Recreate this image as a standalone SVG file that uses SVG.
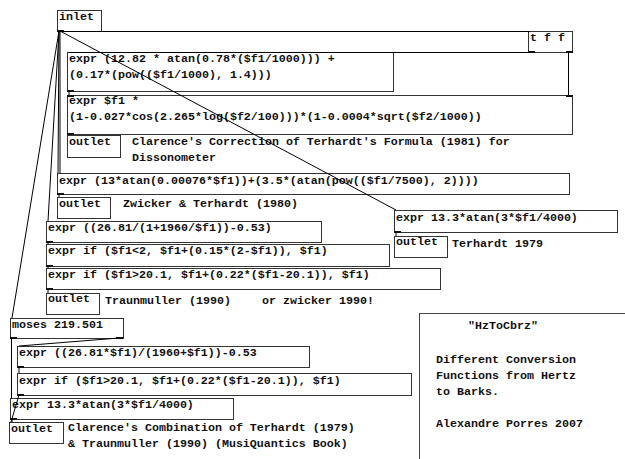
<svg xmlns="http://www.w3.org/2000/svg" width="625" height="459" viewBox="0 0 625 459">
<style>
  text { font-family: "Liberation Mono", "DejaVu Sans Mono", monospace; font-size: 11.67px; font-weight: bold; fill: #111; }
  .box { fill: #fff; stroke: #333; stroke-width: 1; }
  .io { fill: #111; }
  .cn line { stroke: #000; stroke-width: 1; }
  .frame { fill: none; stroke: #444; stroke-width: 1; }
</style>
<rect width="625" height="459" fill="#fff"/>

<g id="inlet"><rect class="box" x="57.5" y="10.5" width="44" height="21"/><rect class="io" x="57" y="30" width="7" height="2"/><text x="59" y="20">inlet</text></g>
<g id="tff"><rect class="box" x="528.5" y="31.5" width="44" height="21"/><rect class="io" x="528" y="51" width="7" height="2"/><rect class="io" x="566" y="51" width="7" height="2"/><text x="530" y="41">t f f</text></g>
<g id="expr1"><rect class="box" x="67.5" y="52.5" width="326" height="39"/><rect class="io" x="67" y="90" width="7" height="2"/><text x="69" y="62">expr (12.82 * atan(0.78*($f1/1000))) +</text><text x="69" y="78">(0.17*(pow(($f1/1000), 1.4)))</text></g>
<g id="expr2"><rect class="box" x="67.5" y="95.5" width="505" height="39"/><rect class="io" x="67" y="95" width="7" height="2"/><rect class="io" x="566" y="95" width="7" height="2"/><rect class="io" x="67" y="133" width="7" height="2"/><text x="69" y="104">expr $f1 *</text><text x="69" y="120">(1-0.027*cos(2.265*log($f2/100)))*(1-0.0004*sqrt($f2/1000))</text></g>
<g id="outlet1"><rect class="box" x="67.5" y="135.5" width="53" height="22"/><text x="69" y="145">outlet</text></g>
<g id="comment1"><text x="132" y="145">Clarence's Correction of Terhardt's Formula (1981) for</text><text x="132" y="161">Dissonometer</text></g>
<g id="expr3"><rect class="box" x="57.5" y="173.5" width="512" height="21"/><rect class="io" x="57" y="193" width="7" height="2"/><text x="59" y="184">expr (13*atan(0.00076*$f1))+(3.5*(atan(pow(($f1/7500), 2))))</text></g>
<g id="outlet2"><rect class="box" x="57.5" y="197.5" width="53" height="21"/><text x="59" y="207">outlet</text></g>
<g id="comment2"><text x="123" y="207">Zwicker &amp; Terhardt (1980)</text></g>
<g id="expr4"><rect class="box" x="394.5" y="210.5" width="223" height="22"/><rect class="io" x="394" y="231" width="7" height="2"/><text x="396" y="221">expr 13.3*atan(3*$f1/4000)</text></g>
<g id="outlet3"><rect class="box" x="394.5" y="236.5" width="53" height="21"/><text x="396" y="245">outlet</text></g>
<g id="comment3"><text x="452" y="247">Terhardt 1979</text></g>
<g id="expr5"><rect class="box" x="46.5" y="221.5" width="275" height="21"/><rect class="io" x="46" y="241" width="7" height="2"/><text x="48" y="231">expr ((26.81/(1+1960/$f1))-0.53)</text></g>
<g id="expr6"><rect class="box" x="46.5" y="244.5" width="343" height="22"/><rect class="io" x="46" y="265" width="7" height="2"/><text x="48" y="254">expr if ($f1&lt;2, $f1+(0.15*(2-$f1)), $f1)</text></g>
<g id="expr7"><rect class="box" x="46.5" y="268.5" width="394" height="21"/><rect class="io" x="46" y="288" width="7" height="2"/><text x="48" y="278">expr if ($f1&gt;20.1, $f1+(0.22*($f1-20.1)), $f1)</text></g>
<g id="outlet4"><rect class="box" x="46.5" y="293.5" width="53" height="21"/><text x="48" y="302">outlet</text></g>
<g id="comment4"><text x="105" y="304">Traunmuller (1990)</text><text x="262" y="304">or zwicker 1990!</text></g>
<g id="moses"><rect class="box" x="10.5" y="318.5" width="113" height="20"/><rect class="io" x="10" y="337" width="7" height="2"/><rect class="io" x="116" y="337" width="7" height="2"/><text x="12" y="328">moses 219.501</text></g>
<g id="expr8"><rect class="box" x="17.5" y="346.5" width="292" height="21"/><rect class="io" x="17" y="366" width="7" height="2"/><text x="19" y="356">expr ((26.81*$f1)/(1960+$f1))-0.53</text></g>
<g id="expr9"><rect class="box" x="17.5" y="373.5" width="394" height="22"/><rect class="io" x="17" y="394" width="7" height="2"/><text x="19" y="384">expr if ($f1&gt;20.1, $f1+(0.22*($f1-20.1)), $f1)</text></g>
<g id="expr10"><rect class="box" x="10.5" y="398.5" width="223" height="21"/><rect class="io" x="10" y="418" width="7" height="2"/><text x="12" y="408">expr 13.3*atan(3*$f1/4000)</text></g>
<g id="outlet5"><rect class="box" x="9.5" y="422.5" width="54" height="21"/><text x="11" y="432">outlet</text></g>
<g id="comment5"><text x="68" y="431">Clarence's Combination of Terhardt (1979)</text><text x="68" y="447">&amp; Traunmuller (1990) (MusiQuantics Book)</text></g>
<g id="info"><rect class="frame" x="419.5" y="313.5" width="220" height="160"/><text x="468" y="329">"HzToCbrz"</text><text x="436" y="363">Different Conversion</text><text x="436" y="379">Functions from Hertz</text><text x="436" y="395">to Barks.</text><text x="436" y="427">Alexandre Porres 2007</text></g>

<g class="cn" id="connectors">
  <line x1="60" y1="31.5" x2="530" y2="31.5"/>
  <line x1="530" y1="52.5" x2="69" y2="52.5"/>
  <line x1="568.5" y1="52" x2="568.5" y2="95"/>
  <line x1="69" y1="91" x2="69" y2="95"/>
  <line x1="60" y1="31" x2="60" y2="173"/>
  <line x1="59" y1="31" x2="58" y2="173"/>
  <line x1="59" y1="194" x2="59" y2="197"/>
  <line x1="60" y1="31" x2="396" y2="210"/>
  <line x1="396" y1="232" x2="396" y2="236"/>
  <line x1="59" y1="31" x2="48" y2="221"/>
  <line x1="48" y1="242" x2="48" y2="244"/>
  <line x1="48" y1="266" x2="48" y2="268"/>
  <line x1="48" y1="289" x2="48" y2="293"/>
  <line x1="59" y1="31" x2="12" y2="318"/>
  <line x1="11.5" y1="338" x2="11.5" y2="398"/>
  <line x1="119" y1="338" x2="19" y2="346"/>
  <line x1="19" y1="367" x2="19" y2="373"/>
  <line x1="19" y1="395" x2="11" y2="422"/>
  <line x1="12" y1="419" x2="12" y2="422"/>
</g>
</svg>
